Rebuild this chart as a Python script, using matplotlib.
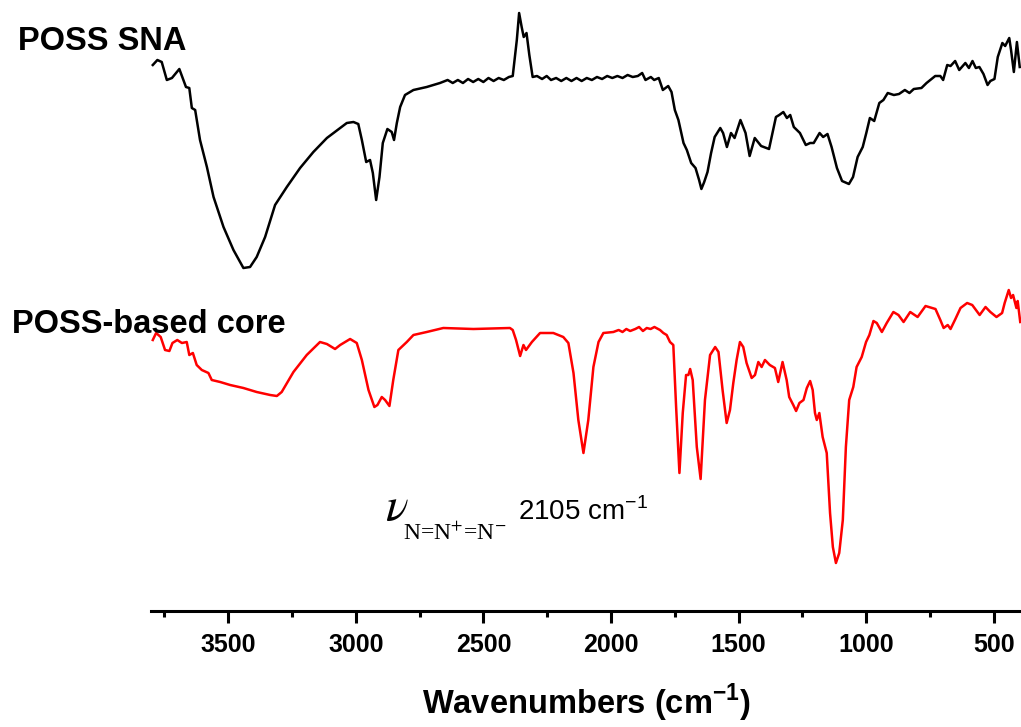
import numpy as np
import matplotlib
matplotlib.use('Agg')
import matplotlib.pyplot as plt
from matplotlib.ticker import MultipleLocator

plt.rcParams['font.family'] = ['Liberation Sans', 'DejaVu Sans']
plt.rcParams['mathtext.fontset'] = 'custom'
plt.rcParams['mathtext.rm'] = 'Liberation Sans'
plt.rcParams['mathtext.bf'] = 'Liberation Sans:bold'

# POSS SNA spectrum (transmittance, a.u.)
sna_wn = [3795, 3777, 3760, 3740, 3720, 3691, 3675, 3665, 3652, 3642, 3629, 3610,
          3583, 3557, 3518, 3479, 3440, 3414, 3388, 3355, 3316, 3270, 3218, 3166,
          3113, 3061, 3035, 3009, 2990, 2976, 2959, 2944, 2933, 2920, 2907, 2894,
          2876, 2859, 2850, 2839, 2826, 2807, 2774, 2722, 2670, 2640, 2620, 2600,
          2580, 2560, 2540, 2520, 2500, 2480, 2460, 2440, 2420, 2400, 2385, 2369,
          2360, 2350, 2342, 2331, 2320, 2307, 2290, 2270, 2252, 2235, 2215, 2195,
          2175, 2155, 2135, 2115, 2095, 2075, 2055, 2035, 2015, 1995, 1975, 1955,
          1935, 1915, 1895, 1878, 1865, 1844, 1831, 1813, 1797, 1776, 1763, 1750,
          1736, 1716, 1703, 1686, 1669, 1655, 1646, 1635, 1622, 1608, 1594, 1572,
          1561, 1546, 1530, 1516, 1493, 1473, 1457, 1437, 1412, 1381, 1354, 1341,
          1325, 1311, 1298, 1284, 1260, 1237, 1220, 1206, 1183, 1169, 1152, 1136,
          1115, 1095, 1068, 1052, 1034, 1014, 1000, 986, 969, 949, 933, 916,
          892, 872, 849, 831, 814, 784, 764, 730, 710, 699, 683, 670,
          652, 636, 612, 598, 584, 571, 557, 541, 525, 514, 498, 485,
          467, 456, 440, 433, 422, 410, 399]
sna_t = [546, 551, 549, 531, 533, 542, 531, 524, 523, 503, 501, 471,
         444, 414, 384, 361, 343, 344, 354, 374, 406, 424, 443, 459,
         473, 483, 488, 489, 487, 471, 449, 451, 438, 411, 434, 468,
         482, 479, 471, 488, 504, 516, 521, 524, 528, 531, 528, 531,
         528, 532, 529, 532, 529, 533, 530, 533, 531, 534, 535, 571,
         598, 584, 574, 578, 556, 534, 535, 532, 535, 531, 533, 530,
         533, 530, 533, 530, 533, 531, 534, 532, 535, 533, 535, 533,
         536, 534, 535, 538, 531, 534, 531, 533, 521, 525, 519, 501,
         491, 468, 461, 448, 443, 431, 422, 429, 439, 458, 474, 483,
         478, 464, 478, 473, 491, 478, 455, 473, 465, 462, 494, 496,
         499, 493, 496, 484, 478, 466, 468, 468, 478, 474, 477, 464,
         443, 430, 427, 434, 454, 464, 478, 493, 490, 508, 511, 518,
         516, 517, 521, 518, 522, 523, 528, 535, 535, 531, 546, 545,
         550, 541, 548, 543, 550, 543, 544, 537, 526, 530, 532, 554,
         568, 565, 573, 561, 539, 569, 544]

# POSS-based core spectrum
core_wn = [3795, 3782, 3764, 3747, 3730, 3718, 3699, 3681, 3662, 3652, 3638, 3623,
           3603, 3577, 3564, 3531, 3492, 3440, 3388, 3335, 3309, 3290, 3244, 3192,
           3140, 3113, 3081, 3061, 3022, 2996, 2976, 2950, 2927, 2915, 2898, 2885,
           2868, 2853, 2833, 2800, 2774, 2722, 2657, 2539, 2396, 2385, 2372, 2356,
           2343, 2333, 2310, 2278, 2226, 2187, 2167, 2147, 2128, 2108, 2089, 2069,
           2049, 2030, 1991, 1970, 1955, 1940, 1925, 1905, 1890, 1875, 1860, 1845,
           1830, 1808, 1795, 1782, 1769, 1756, 1745, 1732, 1719, 1706, 1697, 1690,
           1680, 1664, 1649, 1632, 1612, 1592, 1579, 1563, 1547, 1534, 1521, 1508,
           1495, 1482, 1469, 1449, 1436, 1423, 1410, 1397, 1378, 1358, 1345, 1328,
           1312, 1302, 1286, 1275, 1262, 1246, 1233, 1220, 1210, 1201, 1194, 1184,
           1171, 1155, 1142, 1131, 1119, 1106, 1092, 1080, 1067, 1051, 1038, 1018,
           1001, 988, 972, 959, 939, 920, 894, 874, 854, 828, 799, 768,
           729, 710, 697, 681, 670, 651, 631, 605, 585, 556, 533, 514,
           490, 468, 458, 442, 433, 425, 412, 407, 397]
core_t = [271, 278, 274, 261, 260, 268, 271, 268, 269, 256, 258, 246,
          241, 238, 231, 229, 226, 223, 219, 216, 215, 219, 239, 256,
          269, 267, 262, 266, 272, 268, 251, 221, 204, 206, 214, 211,
          205, 231, 261, 269, 276, 279, 283, 282, 283, 281, 271, 255,
          266, 261, 269, 278, 278, 274, 268, 238, 191, 158, 191, 244,
          269, 278, 279, 281, 279, 282, 280, 282, 284, 280, 283, 282,
          284, 281, 278, 276, 269, 266, 204, 138, 198, 236, 236, 242,
          231, 164, 132, 211, 256, 264, 259, 221, 188, 201, 228, 251,
          269, 264, 248, 233, 236, 249, 244, 251, 246, 243, 229, 249,
          231, 214, 206, 200, 208, 211, 223, 230, 221, 198, 191, 198,
          174, 158, 98, 64, 48, 58, 91, 164, 211, 224, 244, 254,
          269, 276, 290, 288, 279, 288, 299, 296, 289, 299, 294, 305,
          302, 291, 283, 286, 282, 292, 303, 308, 306, 296, 304, 299,
          294, 298, 308, 321, 313, 316, 303, 310, 289]

W, H = 1021, 727
fig = plt.figure(figsize=(W / 100, H / 100), dpi=100)
ax = fig.add_axes([151 / W, (H - 611) / H, 1 - 151 / W, 611 / H])

ax.plot(sna_wn, sna_t, color='black', lw=1.8, solid_joinstyle='round')
ax.plot(core_wn, core_t, color='red', lw=1.8, solid_joinstyle='round')

ax.set_xlim(3802, 394)
ax.set_ylim(0, 611)

for s in ['top', 'right', 'left']:
    ax.spines[s].set_visible(False)
ax.spines['bottom'].set_linewidth(2.2)
ax.set_yticks([])
ax.xaxis.set_major_locator(MultipleLocator(500))
ax.xaxis.set_minor_locator(MultipleLocator(250))
ax.tick_params(axis='x', which='major', direction='out', length=8.5, width=2.2, pad=7,
               labelsize=18)
ax.tick_params(axis='x', which='minor', direction='out', length=4.3, width=2.2)
for lab in ax.get_xticklabels():
    lab.set_fontweight('bold')

ax.set_xlabel(r'Wavenumbers (cm$^{\mathbf{-1}}$)', fontsize=23.5, fontweight='bold', labelpad=18)

# sample labels
fig.text(18 / W, 1 - 50 / H, 'POSS SNA', fontsize=23.5, fontweight='bold', va='baseline')
fig.text(12 / W, 1 - 333 / H, 'POSS-based core', fontsize=23.5, fontweight='bold', va='baseline')

# azide annotation
fig.text(385 / W, 1 - 520 / H, r'$\nu$', fontsize=34, math_fontfamily='stix', va='baseline')
fig.text(403 / W, 1 - 540 / H, r'N=N$^{+}$=N$^{-}$', fontsize=17, family='Liberation Serif',
         math_fontfamily='stix', va='baseline')
fig.text(518 / W, 1 - 520 / H, r'2105 cm$^{\mathrm{-1}}$', fontsize=20, va='baseline')

fig.savefig('out.png', dpi=100)
